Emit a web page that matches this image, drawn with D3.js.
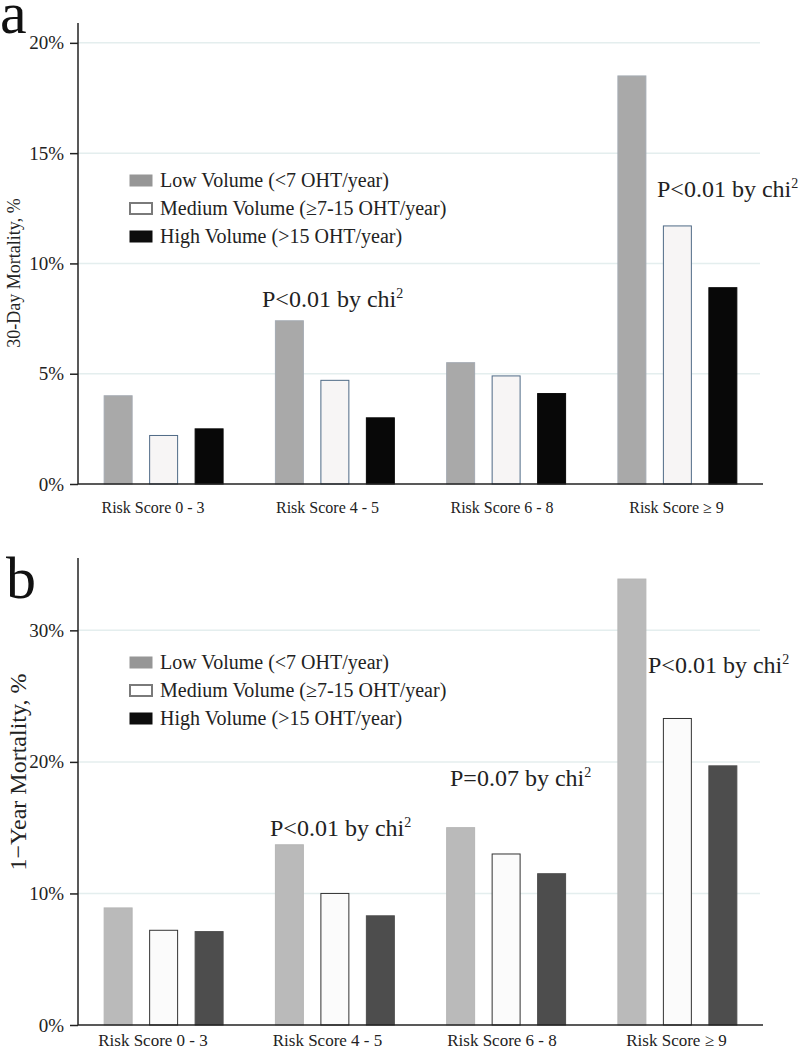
<!DOCTYPE html>
<html><head><meta charset="utf-8">
<script src="https://cdn.jsdelivr.net/npm/d3@7"></script>
<style>body{margin:0;background:#fff}svg, svg text{font-family:"Liberation Serif",Tinos,"Times New Roman",Times,"DejaVu Serif",serif !important}</style>
</head><body><svg id="c" width="808" height="1050"></svg>
<script>
const categories = ["Risk Score 0 - 3", "Risk Score 4 - 5", "Risk Score 6 - 8", "Risk Score \u2265 9"];
const seriesNames = ["Low Volume (<7 OHT/year)", "Medium Volume (\u22657-15 OHT/year)", "High Volume (>15 OHT/year)"];
const mort30Low  = [4.0, 7.4, 5.5, 18.5];
const mort30Med  = [2.2, 4.7, 4.9, 11.7];
const mort30High = [2.5, 3.0, 4.1, 8.9];
const mort1yLow  = [8.9, 13.7, 15.0, 33.9];
const mort1yMed  = [7.2, 10.0, 13.0, 23.3];
const mort1yHigh = [7.1, 8.3, 11.5, 19.7];
const ticks30 = [0, 5, 10, 15, 20];
const ticks1y = [0, 10, 20, 30];

const svg = d3.select("#c");

function panel(o) {
  const g = svg.append("g");
  const x0 = d3.scaleBand().domain(categories).range([78, 763]).padding(0);
  const x1 = d3.scaleBand().domain([0,1,2]).range([0, x0.bandwidth()]).paddingInner(0.385).paddingOuter(0.575);
  const xl = d3.scalePoint().domain(categories).range([152.5, 676]);
  const y = d3.scaleLinear().domain([0, o.ymax]).range([o.y0, o.ytop]);
  g.selectAll("line.grid").data(o.ticks.filter(t => t > 0)).join("line")
    .attr("x1", 78).attr("x2", 760).attr("y1", d => y(d)).attr("y2", d => y(d))
    .attr("stroke", "#e4eeee").attr("stroke-width", 1.5);
  const data = [];
  categories.forEach((c, i) => o.series.forEach((s, j) => data.push({c, j, v: s[i]})));
  g.selectAll("rect.bar").data(data).join("rect")
    .attr("x", d => x0(d.c) + x1(d.j)).attr("width", x1.bandwidth())
    .attr("y", d => y(d.v)).attr("height", d => y(0) - y(d.v))
    .attr("fill", d => o.fills[d.j]).attr("stroke", d => o.strokes[d.j]).attr("stroke-width", 1);
  const ya = d3.axisLeft(y).tickValues(o.ticks).tickFormat(d => d + "%").tickSize(8).tickPadding(6);
  const yg = g.append("g").attr("transform", "translate(78,0)").call(ya);
  yg.attr("font-family", null);
  yg.select(".domain").attr("d", `M0,${o.ytop}V${o.y0}`).attr("stroke", "#222").attr("stroke-width", 1.5);
  yg.selectAll(".tick line").attr("stroke", "#222").attr("stroke-width", 1.5);
  yg.selectAll(".tick text").attr("font-size", 19).attr("fill", "#222");
  const xa = d3.axisBottom(xl).tickSize(0).tickPadding(o.labelPad);
  const xg = g.append("g").attr("transform", `translate(0,${o.y0})`).call(xa);
  xg.attr("font-family", null);
  xg.select(".domain").attr("d", "M78,0H763").attr("stroke", "#222").attr("stroke-width", 1.5);
  xg.selectAll(".tick text").attr("font-size", o.labelSize).attr("fill", "#222");
  g.append("text").attr("transform", `translate(${o.titleX},${o.titleY}) rotate(-90)`)
    .attr("text-anchor", "middle").attr("font-size", o.titleSize).attr("fill", "#222").text(o.title);
  g.append("text").attr("x", o.letterX).attr("y", o.letterY).attr("font-size", 60).attr("fill", "#111").text(o.letter);
  const lg = g.append("g");
  seriesNames.forEach((n, i) => {
    const yy = o.legendY + i * 28;
    lg.append("rect").attr("x", 130).attr("y", yy - 6).attr("width", 22).attr("height", 11)
      .attr("fill", ["#969696", "#ffffff", "#0d0d0d"][i])
      .attr("stroke", ["#969696", "#7a7a7a", "#0d0d0d"][i]).attr("stroke-width", i === 1 ? 2 : 1);
    lg.append("text").attr("x", 160).attr("y", yy + 6).attr("font-size", 20).attr("fill", "#222").text(n);
  });
  o.notes.forEach(n => {
    const t = g.append("text").attr("x", n.x).attr("y", n.y).attr("font-size", 24).attr("fill", "#222");
    t.append("tspan").text(n.text);
    t.append("tspan").attr("dy", -9).attr("font-size", 14).text("2");
  });
}

panel({
  series: [mort30Low, mort30Med, mort30High], ticks: ticks30, ymax: 20.9, y0: 484, ytop: 23,
  fills: ["#a9a9a9", "#f7f5f5", "#080808"], strokes: ["#a4aab2", "#4f6a86", "#080808"],
  title: "30-Day Mortality, %", titleX: 20, titleY: 273, titleSize: 18,
  letter: "a", letterX: 0, letterY: 33, legendY: 181, labelSize: 16, labelPad: 18,
  notes: [{x: 262, y: 307, text: "P<0.01 by chi"}, {x: 657, y: 197, text: "P<0.01 by chi"}]
});
panel({
  series: [mort1yLow, mort1yMed, mort1yHigh], ticks: ticks1y, ymax: 35.5, y0: 1025, ytop: 558,
  fills: ["#bababa", "#fbfbfb", "#4d4d4d"], strokes: ["#b5b5b5", "#333333", "#4d4d4d"],
  title: "1\u2212Year Mortality, %", titleX: 26, titleY: 772, titleSize: 24,
  letter: "b", letterX: 6, letterY: 598, legendY: 663, labelSize: 17, labelPad: 9,
  notes: [{x: 270, y: 836, text: "P<0.01 by chi"}, {x: 450, y: 786, text: "P=0.07 by chi"}, {x: 648, y: 673, text: "P<0.01 by chi"}]
});
</script></body></html>
